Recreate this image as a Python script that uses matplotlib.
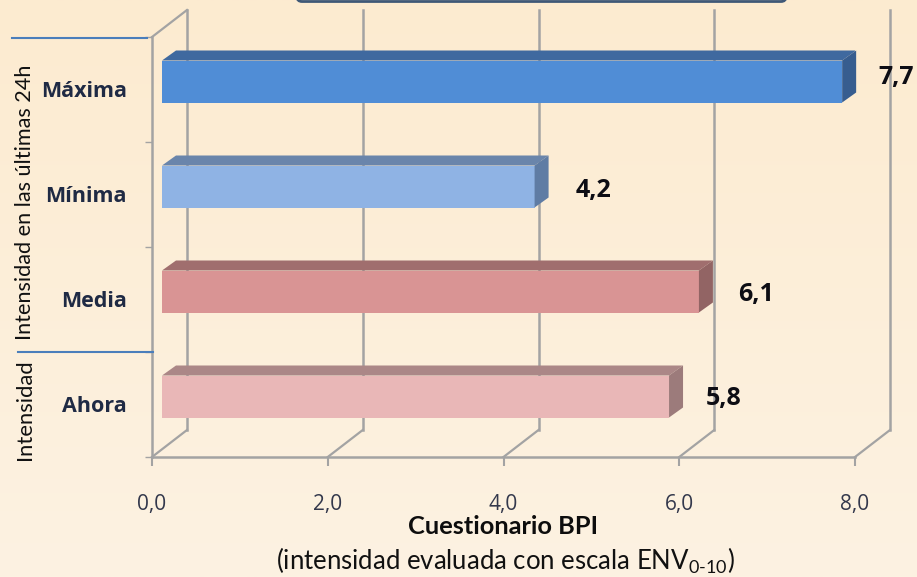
import matplotlib
matplotlib.use('Agg')
import matplotlib.pyplot as plt
import numpy as np
from matplotlib.patches import Polygon, FancyBboxPatch

plt.rcParams['font.family'] = ['Lato', 'DejaVu Sans']
plt.rcParams['mathtext.fontset'] = 'custom'
plt.rcParams['mathtext.rm'] = 'Lato'
plt.rcParams['mathtext.default'] = 'regular'

# Data
categories = ['Ahora', 'Media', 'Mínima', 'Máxima']
values = [5.77, 6.11, 4.24, 7.74]
x_ticks = [0, 2, 4, 6, 8]
front_colors = ['#e9b7b7', '#d99494', '#8fb3e4', '#508dd6']
top_colors = ['#ab8787', '#a06e6e', '#6a85ab', '#3f699f']
side_colors = ['#9c7b7b', '#926464', '#5f7ca4', '#375d8f']

W, H = 917, 577
fig = plt.figure(figsize=(W / 100, H / 100), dpi=100)

# background gradient
bg = fig.add_axes([0, 0, 1, 1], zorder=0)
bg.imshow(np.linspace(0, 1, 200).reshape(-1, 1), aspect='auto', extent=[0, W, H, 0],
          cmap=matplotlib.colors.LinearSegmentedColormap.from_list('bg', ['#fcebd0', '#fdf2e2']))
bg.set_xlim(0, W)
bg.set_ylim(H, 0)
bg.axis('off')

# box cut off by the top edge
bg.add_patch(FancyBboxPatch((297, -20), 489, 21.5, boxstyle='round,pad=0,rounding_size=5',
                            fc='#fdeed6', ec='#3f5877', lw=2))

# plot area in pixels: x 152-855, y 37-457
ax = fig.add_axes([152 / W, 1 - 457 / H, 703 / W, 420 / H], zorder=1)
ax.set_xlim(0, 8)
ax.set_ylim(0, 4)
ax.patch.set_alpha(0)
px = 8 / 703
py = 4 / 420

grid_c = '#a3a3a3'
back_x, back_y = 35 * px, 27 * py
for t in x_ticks:
    ax.plot([t, t + back_x], [0, back_y], color=grid_c, lw=1.6, clip_on=False, zorder=1)
    ax.plot([t + back_x] * 2, [back_y, 4 + back_y], color=grid_c, lw=1.8, clip_on=False, zorder=1)
ax.plot([0, back_x], [4, 4 + back_y], color=grid_c, lw=1.6, clip_on=False, zorder=1)

for s in ['top', 'right']:
    ax.spines[s].set_visible(False)
for s in ['left', 'bottom']:
    ax.spines[s].set_color(grid_c)
    ax.spines[s].set_linewidth(1.8)
    ax.spines[s].set_zorder(1)

# bars, pushed back in depth
y = np.arange(len(categories)) + 0.5
bar_h = 42 * py
left, lift = 10 * px, 8 * py
dx, dy = 14 * px, 10 * py
bars = ax.barh(y + lift, values, bar_h, left=left, color=front_colors, zorder=3)
for i, v in enumerate(values):
    x0, x1 = left, left + v
    y0, y1 = y[i] + lift - bar_h / 2, y[i] + lift + bar_h / 2
    ax.add_patch(Polygon([(x0, y1), (x0 + dx, y1 + dy), (x1 + dx, y1 + dy), (x1, y1)],
                         fc=top_colors[i], ec='none', zorder=3))
    ax.add_patch(Polygon([(x1, y0), (x1 + dx, y0 + dy), (x1 + dx, y1 + dy), (x1, y1)],
                         fc=side_colors[i], ec='none', zorder=3, clip_on=False))

# value labels
label_nudge = [(55, -2), (57, -3), (59, -4), (54, 4)]
for i, v in enumerate(values):
    ax.annotate(f'{v:.1f}'.replace('.', ','), (left + v, y[i] + lift),
                xytext=(label_nudge[i][0] * 0.72, label_nudge[i][1] * 0.72),
                textcoords='offset points', ha='center', va='center', family='Open Sans',
                fontsize=18, fontweight='bold', color='#0d0d14', zorder=5,
                annotation_clip=False)

ax.set_xticks(x_ticks)
ax.set_xticklabels([f'{t:.1f}'.replace('.', ',') for t in x_ticks], fontsize=15, color='#33384c',
                   family='Open Sans')
ax.set_yticks(np.arange(0, 5))
ax.set_yticklabels([])
ax.tick_params(axis='x', length=6.5, width=1.5, color=grid_c, pad=20)
ax.tick_params(axis='y', length=5, width=1, color=grid_c)

# category labels between the ticks
for yy, name in zip(y, categories):
    ax.annotate(name, (0, yy), xytext=(-18, -1.5), textcoords='offset points', ha='right', va='center',
                family='Open Sans', fontsize=15.5, fontweight='bold', color='#1f2a44', annotation_clip=False)

# overlay text and group separators, in pixels
bg2 = fig.add_axes([0, 0, 1, 1], zorder=2)
bg2.set_xlim(0, W)
bg2.set_ylim(H, 0)
bg2.axis('off')
bg2.plot([12, 147], [38, 38], color='#4a7ebb', lw=1.5)
bg2.plot([18, 153], [352, 352], color='#4a7ebb', lw=1.5)
bg2.text(25, 202, 'Intensidad en las últimas 24h', rotation=90, ha='center', va='center',
         fontsize=15.6, color='#111111')
bg2.text(25, 410, 'Intensidad', rotation=90, ha='center', va='center', fontsize=15.8, color='#111111')
bg2.text(503, 527, 'Cuestionario BPI', ha='center', va='center', fontsize=18.3,
         fontweight='bold', color='#0d0d0d')
bg2.text(505, 561, r'(intensidad evaluada con escala ENV$_{\text{0-10}}$)', ha='center', va='center',
         fontsize=18.5, color='#111111')

fig.savefig('out.png', dpi=100)
